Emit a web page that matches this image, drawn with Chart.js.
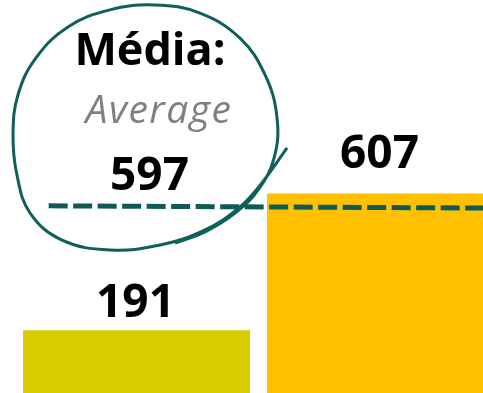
<!DOCTYPE html>
<html>
<head>
<meta charset="utf-8">
<script src="https://cdn.jsdelivr.net/npm/chart.js@4"></script>
<style>
  html, body { margin: 0; padding: 0; background: #fff; overflow: hidden; width: 483px; height: 393px; }
  #wrap { position: relative; width: 503px; height: 393px; }
</style>
</head>
<body>
<div id="wrap"><canvas id="chart" width="503" height="393"></canvas></div>
<script>
// ── data ──
const categories = ['1', '2'];
const values     = [191, 607];
const barColors  = ['#d8cb00', '#ffc000'];
const averageText = '597';

// dashed average line (x in category units)
const avgLineX = [-0.36, 1.5];
const avgLineY = [569, 562];

// hand-drawn loop around the average label (x in category units)
const loopX = [0.617, 0.514, 0.424, 0.281, 0.096, -0.109, -0.305, -0.436, -0.490, -0.506, -0.486, -0.412,
               -0.281, -0.109, 0.076, 0.260, 0.424, 0.527, 0.576, 0.564, 0.498, 0.404, 0.281, 0.158];
const loopY = [745, 639, 566, 496, 450, 435, 465, 547, 663, 785, 906, 1019,
               1113, 1165, 1180, 1155, 1079, 967, 836, 715, 617, 547, 490, 456];

const Y_MAX = 1195;
const labelGap = [13, 25];

const toPts = (xs, ys) => xs.map((x, i) => ({ x, y: ys[i] }));

// ── text labels ──
const textPlugin = {
  id: 'texts',
  afterDatasetsDraw(chart) {
    const c = chart.ctx;
    const meta = chart.getDatasetMeta(0);
    c.save();
    c.textAlign = 'center';
    c.textBaseline = 'alphabetic';
    c.fillStyle = '#000';
    c.font = 'bold 46px "Open Sans", sans-serif';
    meta.data.forEach((bar, i) => c.fillText(String(values[i]), bar.x - 1, bar.y - labelGap[i]));

    c.font = 'bold 45px "Open Sans", sans-serif';
    c.fillText('Média:', 150, 65);
    c.font = 'italic 39px "Open Sans", sans-serif';
    c.fillStyle = '#7f7f7f';
    c.letterSpacing = '1.5px';
    c.fillText('Average', 159, 123);
    c.letterSpacing = '0px';
    c.font = 'bold 46px "Open Sans", sans-serif';
    c.fillStyle = '#000';
    c.fillText(averageText, 149.5, 190);
    c.restore();
  }
};

new Chart(document.getElementById('chart'), {
  type: 'bar',
  data: {
    labels: categories,
    datasets: [
      {
        data: values,
        backgroundColor: barColors,
        barPercentage: 0.93,
        categoryPercentage: 1,
        grouped: false,
        order: 3
      },
      {
        type: 'line',
        xAxisID: 'xl',
        data: toPts(avgLineX, avgLineY),
        borderColor: '#0f5a55',
        borderWidth: 5,
        borderDash: [19, 5.5],
        borderCapStyle: 'butt',
        pointRadius: 0,
        fill: false,
        order: 2
      },
      {
        type: 'line',
        xAxisID: 'xl',
        data: toPts(loopX, loopY),
        borderColor: '#0f5f5b',
        borderWidth: 3,
        tension: 0.4,
        pointRadius: 0,
        fill: false,
        clip: false,
        order: 1
      }
    ]
  },
  options: {
    responsive: false,
    animation: false,
    devicePixelRatio: 1,
    layout: { padding: { left: 14.5, right: 0.5, top: 0, bottom: 0 } },
    plugins: { legend: { display: false }, tooltip: { enabled: false } },
    scales: {
      x:  { display: false },
      xl: { type: 'linear', display: false, offset: false, min: -0.5, max: 1.5 },
      y:  { display: false, min: 0, max: Y_MAX }
    }
  },
  plugins: [textPlugin]
});
</script>
</body>
</html>
